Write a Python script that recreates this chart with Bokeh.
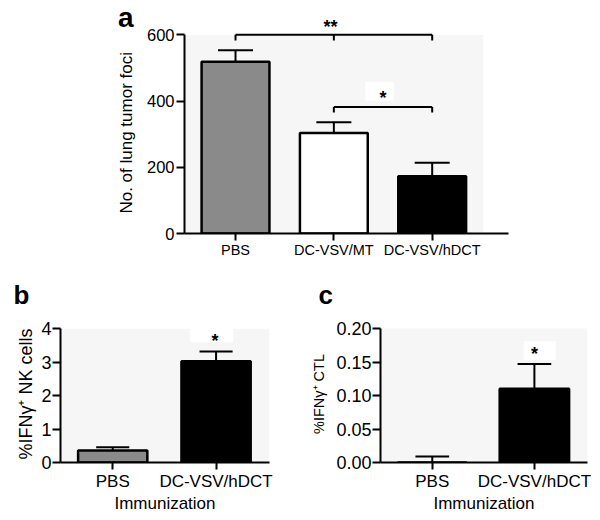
from bokeh.plotting import figure
from bokeh.models import FixedTicker, LinearAxis, NumeralTickFormatter
from bokeh.layouts import column, row
from bokeh.embed import file_html
from bokeh.resources import INLINE
from bokeh.core.properties import value

# ---- data ----
a_groups = ["PBS", "DC-VSV/MT", "DC-VSV/hDCT"]
a_values = [519, 304, 173]
a_errors = [35, 32, 41]
a_colors = ["#8a8a8a", "#ffffff", "#000000"]
a_yticks = [0, 200, 400, 600]

b_groups = ["PBS", "DC-VSV/hDCT"]
b_values = [0.36, 3.03]
b_errors = [0.10, 0.29]
b_colors = ["#8a8a8a", "#000000"]
b_yticks = [0, 1, 2, 3, 4]

c_groups = ["PBS", "DC-VSV/hDCT"]
c_values = [0.0, 0.11]
c_errors = [0.009, 0.037]
c_colors = ["#8a8a8a", "#000000"]
c_yticks = [0, 0.05, 0.10, 0.15, 0.20]

FONT = "Liberation Sans"
BG = "#f6f6f6"
NBSP = "\u00a0"


def style(p, tick_font, label_font, tick_standoff, label_standoff):
    p.background_fill_color = "white"
    p.border_fill_color = "white"
    p.outline_line_color = None
    p.grid.grid_line_color = None
    for ax in (p.xaxis, p.yaxis):
        ax.axis_line_width = 2
        ax.major_tick_line_width = 2
        ax.major_tick_out = 8
        ax.major_tick_in = 0
        ax.minor_tick_line_color = None
        ax.major_label_text_font = FONT
        ax.major_label_text_color = "black"
        ax.axis_label_text_font = FONT
        ax.axis_label_text_font_style = "normal"
        ax.axis_label_text_color = "black"
    p.xaxis.major_tick_out = 7
    p.yaxis.major_label_text_font_size = tick_font
    p.yaxis.major_label_standoff = tick_standoff
    p.yaxis.axis_label_text_font_size = label_font
    p.yaxis.axis_label_standoff = label_standoff


def background(p, x0, x1, ytop):
    p.quad(left=[x0], right=[x1], bottom=[0], top=[ytop], fill_color=BG,
           line_color=None)


def bars(p, vals, errs, colors, width, cap):
    xs = list(range(1, len(vals) + 1))
    tops = [v + e for v, e in zip(vals, errs)]
    p.segment(x0=xs, y0=vals, x1=xs, y1=tops, line_color="black", line_width=2)
    p.segment(x0=[x - cap / 2 for x in xs], y0=tops, x1=[x + cap / 2 for x in xs],
              y1=tops, line_color="black", line_width=2)
    p.vbar(x=xs, top=vals, bottom=0, width=width, fill_color=colors,
           line_color="black", line_width=2.5)


def star(p, x, y, txt):
    p.text(x=[x], y=[y], text=[txt], text_font=value(FONT), text_font_size="18px",
           text_font_style="bold", text_align="center", text_baseline="middle",
           text_color="black")


def white_box(p, l, r, b, t):
    p.quad(left=[l], right=[r], bottom=[b], top=[t], fill_color="white",
           line_color=None)


def letter_title(p, txt, offset, standoff):
    p.title.text = txt
    p.title.align = "left"
    p.title.offset = offset
    p.title.standoff = standoff
    p.title.text_font = FONT
    p.title.text_font_size = "26px"
    p.title.text_font_style = "bold"
    p.title.text_color = "black"


# ---- panel a ----
pa = figure(width=600, height=260, x_range=(0.4812, 3.776), y_range=(0, 680),
            output_backend="svg", toolbar_location=None,
            min_border_left=184, min_border_right=92, min_border_top=8,
            min_border_bottom=27)
style(pa, "16.5px", "17px", 2, 8)
background(pa, 0.4812, 3.52, 600)
bars(pa, a_values, a_errors, a_colors, 0.69, 0.356)
pa.yaxis.bounds = (0, 600)
pa.yaxis.ticker = FixedTicker(ticks=a_yticks)
pa.yaxis.axis_label = "No. of lung tumor foci" + NBSP * 5
pa.xaxis.ticker = FixedTicker(ticks=[1, 2, 3])
pa.xaxis.major_label_overrides = {i + 1: g for i, g in enumerate(a_groups)}
pa.xaxis.major_label_text_font_size = "14.5px"
pa.xaxis.major_label_standoff = 1
# significance brackets
br1 = 601
pa.segment(x0=[1], y0=[br1], x1=[3], y1=[br1], line_color="black", line_width=2)
pa.segment(x0=[1, 2, 3], y0=[br1] * 3, x1=[1, 2, 3], y1=[br1 - 18] * 3,
           line_color="black", line_width=2)
star(pa, 1.966, 625, "**")
white_box(pa, 2.32, 2.61, 402, 459)
br2 = 382
pa.segment(x0=[2], y0=[br2], x1=[3], y1=[br2], line_color="black", line_width=2)
pa.segment(x0=[2, 3], y0=[br2] * 2, x1=[2, 3], y1=[br2 - 16] * 2,
           line_color="black", line_width=2)
star(pa, 2.5, 409, "*")
# panel letter "a" as an outer, line-less axis label
a_axis = LinearAxis(ticker=FixedTicker(ticks=[654]),
                    major_label_overrides={654: "a"},
                    axis_line_color=None, major_tick_line_color=None,
                    minor_tick_line_color=None, major_tick_out=0, major_tick_in=0,
                    major_label_standoff=-20, major_label_text_font=FONT,
                    major_label_text_font_size="28px",
                    major_label_text_font_style="bold",
                    major_label_text_color="black")
pa.add_layout(a_axis, "left")

# ---- panel b ----
pb = figure(width=300, height=258, x_range=(0.4947, 2.517), y_range=(0, 4.1),
            output_backend="svg", toolbar_location=None,
            min_border_left=60, min_border_right=31, min_border_top=65,
            min_border_bottom=56)
style(pb, "18px", "18px", 1, 2)
background(pb, 0.4947, 2.517, 4)
bars(pb, b_values, b_errors, b_colors, 0.67, 0.32)
pb.yaxis.bounds = (0, 4)
pb.yaxis.ticker = FixedTicker(ticks=b_yticks)
pb.yaxis.axis_label = "%IFNγ⁺ NK cells"
pb.xaxis.ticker = FixedTicker(ticks=[1, 2])
pb.xaxis.major_label_overrides = {i + 1: g for i, g in enumerate(b_groups)}
pb.xaxis.major_label_text_font_size = "17px"
pb.xaxis.major_label_standoff = 2
pb.xaxis.axis_label = "Immunization"
pb.xaxis.axis_label_text_font_size = "17px"
pb.xaxis.axis_label_standoff = 0
white_box(pb, 1.75, 2.166, 3.6, 4.1)
star(pb, 1.99, 3.64, "*")
letter_title(pb, "b", -47, 31)

# ---- panel c ----
pc = figure(width=300, height=258, x_range=(0.493, 2.52), y_range=(0, 0.2045),
            output_backend="svg", toolbar_location=None,
            min_border_left=80, min_border_right=13, min_border_top=65,
            min_border_bottom=55)
style(pc, "18px", "14.5px", 1, 6)
background(pc, 0.493, 2.52, 0.2)
bars(pc, c_values, c_errors, c_colors, 0.68, 0.33)
pc.yaxis.bounds = (0, 0.2)
pc.yaxis.ticker = FixedTicker(ticks=c_yticks)
pc.yaxis.formatter = NumeralTickFormatter(format="0.00")
pc.yaxis.axis_label = "%IFNγ⁺ CTL"
pc.xaxis.ticker = FixedTicker(ticks=[1, 2])
pc.xaxis.major_label_overrides = {i + 1: g for i, g in enumerate(c_groups)}
pc.xaxis.major_label_text_font_size = "17px"
pc.xaxis.major_label_standoff = 2
pc.xaxis.axis_label = "Immunization"
pc.xaxis.axis_label_text_font_size = "17px"
pc.xaxis.axis_label_standoff = 0
white_box(pc, 1.895, 2.209, 0.1526, 0.181)
star(pc, 2.0, 0.1618, "*")
letter_title(pc, "c", -62, 31)

layout = column(pa, row(pb, pc))
open("out.html", "w").write(file_html(layout, INLINE))
